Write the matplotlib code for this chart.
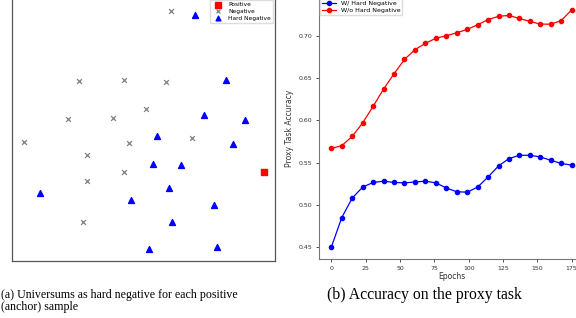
import numpy as np
import matplotlib.pyplot as plt

# (a) nuage de points : négatifs, négatifs difficiles, positif
neg_x = [60.6, 25.4, 42.5, 58.4, 51.0, 21.4, 38.3, 4.4, 44.5, 68.6, 28.5, 42.7, 28.4, 27.1]
neg_y = [94.9, 68.3, 68.7, 68.2, 57.9, 53.9, 54.5, 45.2, 44.8, 46.8, 40.2, 34.0, 30.3, 14.7]
hard_x = [69.7, 81.3, 73.1, 88.5, 55.1, 83.9, 53.7, 64.1, 59.8, 10.8, 45.1, 76.7, 61.0, 52.2, 77.9]
hard_y = [93.7, 68.8, 55.6, 53.6, 47.4, 44.4, 36.8, 36.4, 27.6, 25.9, 23.2, 21.4, 14.7, 4.4, 5.2]
pos_x = [95.7]
pos_y = [33.7]

# (b) précision sur la tâche proxy
epochs = np.linspace(0, 175, 24)
acc_hard = [0.450, 0.485, 0.508, 0.521, 0.5265, 0.528, 0.5265, 0.526, 0.527, 0.528,
            0.526, 0.520, 0.5155, 0.515, 0.521, 0.533, 0.546, 0.5547, 0.5586, 0.5586,
            0.5567, 0.5527, 0.549, 0.547]
acc_no_hard = [0.5667, 0.570, 0.581, 0.597, 0.6165, 0.637, 0.655, 0.672, 0.6835, 0.691,
               0.697, 0.700, 0.7035, 0.7075, 0.713, 0.719, 0.723, 0.724, 0.7204, 0.717,
               0.7137, 0.7137, 0.718, 0.7306]

fig = plt.figure(figsize=(5.76, 3.18), dpi=100)

ax1 = fig.add_axes([12/576, 57/318, 263/576, 263/318])
ax1.scatter(pos_x, pos_y, marker='s', color='red', s=22, label='Positive', zorder=3)
ax1.scatter(neg_x, neg_y, marker='x', color='gray', s=12, linewidths=0.9, label='Negative')
ax1.scatter(hard_x, hard_y, marker='^', color='blue', s=18, label='Hard Negative')
ax1.set_xlim(0, 100)
ax1.set_ylim(0, 100)
ax1.set_xticks([])
ax1.set_yticks([])
for s in ax1.spines.values():
    s.set_color('#555555')
    s.set_linewidth(0.9)
ax1.legend(loc='upper right', fontsize=4.2, frameon=True, framealpha=1, edgecolor='#dddddd',
           fancybox=False, borderpad=0.4, handletextpad=0.8, labelspacing=0.3,
           borderaxespad=0.3, scatterpoints=1, markerscale=0.8)

ax2 = fig.add_axes([319.3/576, 59/318, 264.4/576, 261/318])
ax2.plot(epochs, acc_hard, 'o-', color='blue', lw=0.9, ms=3, label='W/ Hard Negative')
ax2.plot(epochs, acc_no_hard, 'o-', color='red', lw=0.9, ms=3, label='W/o Hard Negative')
ax2.set_xticks([0, 25, 50, 75, 100, 125, 150, 175])
ax2.set_yticks([0.45, 0.50, 0.55, 0.60, 0.65, 0.70])
ax2.set_yticklabels(['0.45', '0.50', '0.55', '0.60', '0.65', '0.70'])
ax2.tick_params(labelsize=4.5, length=2, width=0.6, colors='#333333', pad=3)
ax2.spines['top'].set_visible(False)
ax2.spines['right'].set_visible(False)
for s in ['left', 'bottom']:
    ax2.spines[s].set_color('#777777')
    ax2.spines[s].set_linewidth(0.8)
ax2.set_xlabel('Epochs', fontsize=5.5, color='#333333', labelpad=1)
ax2.set_ylabel('Proxy Task Accuracy', fontsize=5.5, color='#333333', labelpad=3)
ax2.legend(loc='upper left', fontsize=4.5, frameon=True, framealpha=1, edgecolor='#dddddd',
           fancybox=False, borderpad=0.3, handlelength=2.2, labelspacing=0.25,
           borderaxespad=0.1, bbox_to_anchor=(0.0, 1.0))

# légendes des sous-figures
fig.text(1/576, 1 - 295/318, '(a) Universums as hard negative for each positive',
         fontsize=8.6, family='Liberation Serif', va='center', ha='left')
fig.text(1/576, 1 - 307/318, '(anchor) sample',
         fontsize=8.6, family='Liberation Serif', va='center', ha='left')
fig.text(424/576, 1 - 295/318, '(b) Accuracy on the proxy task',
         fontsize=11.3, family='Liberation Serif', va='center', ha='center')

plt.savefig('out.png', dpi=100)
